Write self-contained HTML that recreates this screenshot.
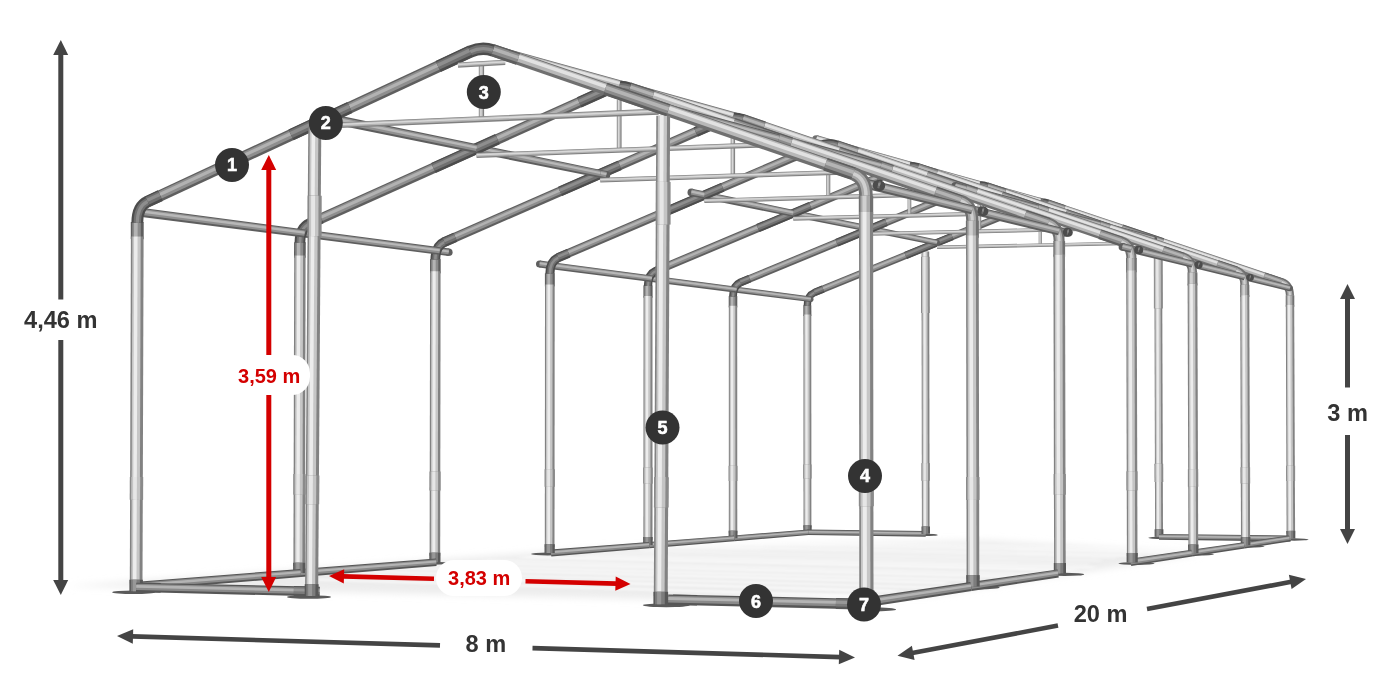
<!DOCTYPE html>
<html><head><meta charset="utf-8"><title>Frame dimensions</title>
<style>
html,body{margin:0;padding:0;background:#fff;}
body{width:1400px;height:700px;overflow:hidden;}
svg{display:block;}
svg text{font-family:"Liberation Sans",Arial,Helvetica,sans-serif;font-weight:700;}
</style></head><body>
<svg width="1400" height="700" viewBox="0 0 1400 700">
<rect width="1400" height="700" fill="#fff"/>
<g id="shadow">
<defs><filter id="bl" x="-5%" y="-30%" width="110%" height="160%"><feGaussianBlur stdDeviation="3.5"/></filter><filter id="bl2" x="-5%" y="-30%" width="110%" height="160%"><feGaussianBlur stdDeviation="1.3"/></filter></defs>
<g filter="url(#bl)">
<polygon points="65.6,585.9 650.0,599.3 931.9,595.4 1202.2,553.7 990.3,540.6 603.9,548.0" fill="#e6e6e6" opacity="0.75"/>
</g><g filter="url(#bl2)">
<polygon points="299.2,579.8 883.0,597.6 892.6,596.1 312.5,578.7" fill="#ffffff" opacity="0.90"/>
<polygon points="329.7,575.6 890.2,591.9 901.9,590.3 345.8,574.2" fill="#ffffff" opacity="0.90"/>
<polygon points="344.9,571.6 949.2,588.7 958.4,587.4 358.0,570.6" fill="#ffffff" opacity="0.90"/>
<polygon points="382.5,568.4 941.6,583.7 951.7,582.2 396.7,567.3" fill="#ffffff" opacity="0.90"/>
<polygon points="420.9,566.1 974.4,580.8 983.8,579.4 434.2,565.0" fill="#ffffff" opacity="0.90"/>
<polygon points="453.7,563.2 1013.1,577.6 1023.3,576.1 468.4,562.0" fill="#ffffff" opacity="0.90"/>
<polygon points="476.9,560.6 1038.6,574.7 1046.3,573.6 488.2,559.7" fill="#ffffff" opacity="0.90"/>
<polygon points="515.9,557.7 1069.3,571.1 1080.9,569.4 532.9,556.3" fill="#ffffff" opacity="0.90"/>
<polygon points="576.1,556.0 1089.6,568.1 1098.9,566.7 589.8,554.9" fill="#ffffff" opacity="0.90"/>
<polygon points="593.7,553.1 1086.9,564.4 1091.6,563.7 600.5,552.5" fill="#ffffff" opacity="0.90"/>
<polygon points="637.1,551.0 1098.3,561.2 1104.3,560.4 645.7,550.3" fill="#ffffff" opacity="0.90"/>
<polygon points="649.6,548.2 1114.4,558.2 1118.7,557.6 655.8,547.7" fill="#ffffff" opacity="0.90"/>
<polygon points="672.8,546.7 1135.6,556.5 1144.2,555.2 685.3,545.7" fill="#ffffff" opacity="0.90"/>
<polygon points="677.2,544.1 1177.2,554.4 1181.2,553.8 683.2,543.6" fill="#ffffff" opacity="0.90"/>
<polygon points="719.5,543.2 1163.3,552.2 1172.1,550.9 732.3,542.2" fill="#ffffff" opacity="0.90"/>
<polygon points="754.3,541.2 1177.7,549.5 1184.4,548.6 764.1,540.4" fill="#ffffff" opacity="0.90"/>
</g>
</g>
<g id="frame">
<ellipse cx="133.6" cy="592.2" rx="21.6" ry="1.8" fill="#5a5a5a"/>
<ellipse cx="872.1" cy="609.4" rx="24.1" ry="2.0" fill="#5a5a5a"/>
<ellipse cx="296.9" cy="574.0" rx="19.6" ry="1.6" fill="#5a5a5a"/>
<ellipse cx="978.1" cy="587.6" rx="21.7" ry="1.8" fill="#5a5a5a"/>
<ellipse cx="432.8" cy="563.2" rx="18.0" ry="1.5" fill="#5a5a5a"/>
<ellipse cx="1064.5" cy="574.4" rx="19.7" ry="1.6" fill="#5a5a5a"/>
<ellipse cx="547.7" cy="554.0" rx="16.6" ry="1.4" fill="#5a5a5a"/>
<ellipse cx="1136.5" cy="563.5" rx="18.0" ry="1.5" fill="#5a5a5a"/>
<ellipse cx="646.1" cy="546.1" rx="15.4" ry="1.3" fill="#5a5a5a"/>
<ellipse cx="1197.2" cy="554.2" rx="16.6" ry="1.4" fill="#5a5a5a"/>
<ellipse cx="731.4" cy="539.3" rx="14.3" ry="1.2" fill="#5a5a5a"/>
<ellipse cx="1249.2" cy="546.3" rx="15.4" ry="1.3" fill="#5a5a5a"/>
<ellipse cx="805.9" cy="533.4" rx="13.4" ry="1.2" fill="#5a5a5a"/>
<ellipse cx="1294.2" cy="539.5" rx="14.4" ry="1.2" fill="#5a5a5a"/>
<ellipse cx="309.0" cy="597.0" rx="22.3" ry="1.8" fill="#5a5a5a"/>
<ellipse cx="666.3" cy="605.3" rx="23.5" ry="1.9" fill="#5a5a5a"/>
<ellipse cx="924.1" cy="534.9" rx="13.7" ry="1.2" fill="#5a5a5a"/>
<ellipse cx="1162.4" cy="537.8" rx="14.1" ry="1.2" fill="#5a5a5a"/>
<polygon points="811.4,315.9 811.3,305.3 803.3,305.3 803.3,316.0" fill="#5e5e5e"/><polygon points="809.6,316.0 809.5,305.3 804.2,305.3 804.2,316.0" fill="#8c8c8c"/><polygon points="807.6,316.0 807.6,305.3 805.3,305.3 805.3,316.0" fill="#b4b4b4"/>
<polygon points="811.4,527.6 811.3,314.4 803.4,314.4 803.5,527.6" fill="#828282"/><polygon points="809.7,527.6 809.5,314.4 804.3,314.4 804.5,527.6" fill="#c6c6c6"/><polygon points="807.7,527.6 807.6,314.4 805.4,314.4 805.5,527.6" fill="#ececec"/>
<polygon points="811.6,478.6 811.6,464.4 803.3,464.4 803.3,478.6" fill="#8a8a8a"/><polygon points="809.8,478.6 809.8,464.4 804.2,464.4 804.2,478.6" fill="#c4c4c4"/><polygon points="807.7,478.6 807.7,464.4 805.4,464.4 805.4,478.6" fill="#e6e6e6"/>
<polygon points="811.7,532.3 811.7,525.2 803.3,525.2 803.3,532.4" fill="#585858"/><polygon points="809.8,532.4 809.8,525.2 804.3,525.2 804.3,532.4" fill="#7c7c7c"/><polygon points="807.8,532.4 807.8,525.2 805.4,525.2 805.4,532.4" fill="#989898"/>
<polygon points="807.5,535.1 925.7,536.7 925.8,531.0 807.5,529.6" fill="#565656"/><polygon points="807.5,533.9 925.7,535.4 925.8,531.7 807.5,530.2" fill="#8a8a8a"/><polygon points="807.5,532.5 925.7,534.0 925.8,532.5 807.5,531.0" fill="#b4b4b4"/>
<polygon points="815.7,295.9 1034.1,207.1 1031.3,200.3 813.0,289.3" fill="#5f5f5f"/><polygon points="815.1,294.4 1033.4,205.6 1031.6,201.1 813.4,290.0" fill="#8e8e8e"/><polygon points="814.5,292.8 1032.8,204.0 1032.0,202.1 813.7,290.9" fill="#b2b2b2"/>
<polygon points="929.6,529.0 929.2,251.4 921.5,251.4 921.9,529.0" fill="#828282"/><polygon points="927.8,529.0 927.4,251.4 922.4,251.4 922.8,529.0" fill="#c6c6c6"/><polygon points="926.0,529.0 925.6,251.4 923.5,251.4 923.8,529.0" fill="#ececec"/>
<polygon points="929.8,312.9 929.7,256.8 921.0,256.8 921.1,312.9" fill="#8a8a8a"/><polygon points="927.8,312.9 927.7,256.8 922.0,256.8 922.1,312.9" fill="#c4c4c4"/><polygon points="925.7,312.9 925.6,256.8 923.2,256.8 923.3,312.9" fill="#e6e6e6"/>
<polygon points="929.9,480.8 929.9,463.1 921.4,463.1 921.4,480.8" fill="#8a8a8a"/><polygon points="928.0,480.8 928.0,463.1 922.4,463.1 922.4,480.8" fill="#c4c4c4"/><polygon points="925.9,480.8 925.9,463.1 923.5,463.1 923.6,480.8" fill="#e6e6e6"/>
<polygon points="815.5,296.1 824.5,292.4 821.7,285.6 812.7,289.3" fill="#4c4c4c"/><polygon points="814.9,294.6 823.9,290.9 822.1,286.4 813.0,290.1" fill="#707070"/><polygon points="814.2,292.9 823.2,289.2 822.4,287.3 813.4,291.0" fill="#8e8e8e"/>
<polygon points="907.0,258.9 953.7,240.0 950.8,233.0 904.2,252.0" fill="#4c4c4c"/><polygon points="906.4,257.4 953.0,238.4 951.2,233.8 904.5,252.8" fill="#707070"/><polygon points="905.7,255.7 952.3,236.7 951.5,234.7 904.9,253.7" fill="#8e8e8e"/>
<polygon points="1012.9,215.9 1034.4,207.1 1031.6,200.1 1010.0,208.9" fill="#4c4c4c"/><polygon points="1012.2,214.3 1033.8,205.6 1031.9,200.9 1010.3,209.7" fill="#707070"/><polygon points="1011.5,212.6 1033.1,203.8 1032.3,201.9 1010.7,210.6" fill="#8e8e8e"/>
<polygon points="930.0,533.8 930.0,526.6 921.5,526.6 921.5,533.9" fill="#585858"/><polygon points="928.1,533.8 928.1,526.6 922.5,526.6 922.5,533.9" fill="#7c7c7c"/><polygon points="926.0,533.9 926.0,526.6 923.6,526.6 923.6,533.9" fill="#989898"/>
<path d="M807.3,305.7 Q807.3,295.4 814.4,292.6" fill="none" stroke="#4c4c4c" stroke-width="7.4"/><path d="M807.3,305.7 Q807.3,295.4 814.4,292.6" fill="none" stroke="#707070" stroke-width="4.6"/><path d="M807.3,305.7 Q807.3,295.4 814.4,292.6" fill="none" stroke="#8e8e8e" stroke-width="1.9"/>
<polygon points="1038.6,211.3 1038.7,244.4 1041.9,244.4 1041.9,211.3" fill="#808080"/><polygon points="1039.0,211.3 1039.1,244.4 1041.2,244.4 1041.1,211.3" fill="#b4b4b4"/><polygon points="1039.4,211.3 1039.5,244.4 1040.4,244.4 1040.3,211.3" fill="#d8d8d8"/>
<circle cx="810.7" cy="299.3" r="2.8" fill="#5e5e5e"/><polygon points="736.2,292.7 810.3,302.1 811.1,296.5 736.9,286.7" fill="#5e5e5e"/><polygon points="736.3,291.3 810.5,300.9 811.0,297.2 736.9,287.4" fill="#909090"/><polygon points="736.5,289.9 810.7,299.5 810.9,297.9 736.7,288.2" fill="#b8b8b8"/>
<polygon points="937.1,249.1 1156.7,244.5 1156.6,240.9 937.0,245.6" fill="#808080"/><polygon points="937.0,248.3 1156.7,243.7 1156.6,241.3 937.0,246.0" fill="#b4b4b4"/><polygon points="937.0,247.4 1156.7,242.8 1156.6,241.8 937.0,246.4" fill="#d8d8d8"/>
<polygon points="734.5,541.3 808.8,535.1 808.4,529.6 734.0,535.4" fill="#565656"/><polygon points="734.4,540.0 808.7,533.9 808.5,530.2 734.1,536.1" fill="#8a8a8a"/><polygon points="734.3,538.5 808.6,532.5 808.5,531.0 734.1,536.9" fill="#b4b4b4"/>
<polygon points="1163.0,531.8 1162.1,244.6 1154.3,244.6 1155.1,531.8" fill="#828282"/><polygon points="1161.2,531.8 1160.4,244.6 1155.2,244.6 1156.0,531.8" fill="#c6c6c6"/><polygon points="1159.3,531.8 1158.5,244.6 1156.3,244.6 1157.1,531.8" fill="#ececec"/>
<polygon points="1162.9,308.4 1162.7,250.4 1153.8,250.4 1153.9,308.5" fill="#8a8a8a"/><polygon points="1160.9,308.5 1160.7,250.4 1154.8,250.4 1154.9,308.5" fill="#c4c4c4"/><polygon points="1158.7,308.5 1158.5,250.4 1156.0,250.4 1156.2,308.5" fill="#e6e6e6"/>
<polygon points="1283.1,278.5 1048.9,199.7 1046.6,206.7 1280.6,285.7" fill="#707070"/><polygon points="1282.9,279.1 1048.8,200.3 1047.2,204.9 1281.3,283.8" fill="#b8b8b8"/><polygon points="1282.6,279.8 1048.5,201.0 1047.9,202.9 1281.9,281.8" fill="#e2e2e2"/>
<polygon points="1163.3,481.9 1163.2,463.7 1154.4,463.7 1154.5,482.0" fill="#8a8a8a"/><polygon points="1161.3,481.9 1161.3,463.7 1155.4,463.7 1155.5,482.0" fill="#c4c4c4"/><polygon points="1159.2,481.9 1159.1,463.7 1156.6,463.7 1156.7,482.0" fill="#e6e6e6"/>
<polygon points="1163.4,536.8 1163.4,529.3 1154.6,529.3 1154.6,536.8" fill="#585858"/><polygon points="1161.5,536.8 1161.4,529.3 1155.6,529.3 1155.6,536.8" fill="#7c7c7c"/><polygon points="1159.3,536.8 1159.3,529.3 1156.8,529.3 1156.8,536.8" fill="#989898"/>
<polygon points="1283.4,278.5 1265.4,272.4 1262.9,279.9 1280.9,286.0" fill="#5e5e5e"/><polygon points="1283.2,279.3 1265.1,273.3 1263.5,278.2 1281.5,284.3" fill="#8c8c8c"/><polygon points="1282.8,280.4 1264.8,274.3 1264.1,276.4 1282.1,282.5" fill="#b4b4b4"/>
<polygon points="1164.1,238.3 1123.2,224.6 1120.7,231.9 1161.6,245.7" fill="#5e5e5e"/><polygon points="1163.8,239.2 1122.9,225.4 1121.2,230.2 1162.2,244.0" fill="#8c8c8c"/><polygon points="1163.5,240.2 1122.5,226.4 1121.8,228.4 1162.8,242.2" fill="#b4b4b4"/>
<polygon points="1065.6,205.2 1048.7,199.5 1046.2,206.7 1063.2,212.4" fill="#5e5e5e"/><polygon points="1065.3,206.0 1048.4,200.3 1046.8,205.1 1063.7,210.8" fill="#8c8c8c"/><polygon points="1065.0,207.0 1048.1,201.3 1047.4,203.3 1064.3,209.1" fill="#b4b4b4"/>
<path d="M1290.0,295.8 Q1289.9,284.8 1281.8,282.1" fill="none" stroke="#707070" stroke-width="8.1"/><path d="M1290.0,295.8 Q1289.9,284.8 1281.8,282.1" fill="none" stroke="#a8a8a8" stroke-width="5.0"/><path d="M1290.0,295.8 Q1289.9,284.8 1281.8,282.1" fill="none" stroke="#d0d0d0" stroke-width="2.1"/>
<path d="M1032.7,203.7 Q1040.2,200.7 1047.8,203.2" fill="none" stroke="#4c4c4c" stroke-width="7.6"/><path d="M1032.7,203.7 Q1040.2,200.7 1047.8,203.2" fill="none" stroke="#707070" stroke-width="4.7"/><path d="M1032.7,203.7 Q1040.2,200.7 1047.8,203.2" fill="none" stroke="#8e8e8e" stroke-width="2.0"/>
<circle cx="937.0" cy="242.7" r="3.0" fill="#5e5e5e"/><polygon points="869.4,232.1 936.4,245.6 937.6,239.7 870.7,225.8" fill="#5e5e5e"/><polygon points="869.7,230.7 936.7,244.3 937.5,240.4 870.5,226.6" fill="#909090"/><polygon points="870.0,229.2 937.0,242.9 937.3,241.2 870.4,227.4" fill="#b8b8b8"/>
<polygon points="737.3,307.4 737.3,296.1 728.7,296.1 728.7,307.4" fill="#5e5e5e"/><polygon points="735.4,307.4 735.4,296.1 729.7,296.1 729.7,307.4" fill="#8c8c8c"/><polygon points="733.3,307.4 733.3,296.1 730.9,296.1 730.9,307.4" fill="#b4b4b4"/>
<polygon points="737.3,533.2 737.2,305.7 728.8,305.8 728.8,533.2" fill="#828282"/><polygon points="735.4,533.2 735.3,305.7 729.8,305.8 729.8,533.2" fill="#c6c6c6"/><polygon points="733.3,533.2 733.3,305.7 730.9,305.7 731.0,533.2" fill="#ececec"/>
<circle cx="1040.2" cy="201.1" r="3.3" fill="#707070"/><polygon points="978.4,187.7 1039.3,204.3 1041.1,197.9 980.3,180.9" fill="#707070"/><polygon points="978.9,185.9 1039.8,202.6 1040.9,198.4 980.1,181.4" fill="#b8b8b8"/><polygon points="979.4,184.0 1040.3,200.8 1040.8,199.0 979.9,182.1" fill="#e2e2e2"/>
<polygon points="737.5,481.0 737.5,465.8 728.6,465.8 728.6,481.0" fill="#8a8a8a"/><polygon points="735.5,481.0 735.5,465.8 729.6,465.8 729.6,481.0" fill="#c4c4c4"/><polygon points="733.3,481.0 733.3,465.8 730.8,465.8 730.8,481.0" fill="#e6e6e6"/>
<polygon points="1159.0,539.7 1290.8,541.4 1290.9,535.5 1159.1,533.9" fill="#565656"/><polygon points="1159.0,538.4 1290.8,540.1 1290.9,536.2 1159.1,534.6" fill="#8a8a8a"/><polygon points="1159.0,537.0 1290.8,538.7 1290.9,537.0 1159.0,535.4" fill="#b4b4b4"/>
<polygon points="737.5,538.3 737.5,530.7 728.6,530.7 728.6,538.3" fill="#585858"/><polygon points="735.5,538.3 735.5,530.7 729.6,530.7 729.6,538.3" fill="#7c7c7c"/><polygon points="733.3,538.3 733.3,530.7 730.8,530.7 730.8,538.3" fill="#989898"/>
<polygon points="1294.3,306.8 1294.3,295.4 1285.7,295.4 1285.7,306.8" fill="#707070"/><polygon points="1292.4,306.8 1292.4,295.4 1286.7,295.4 1286.7,306.8" fill="#a8a8a8"/><polygon points="1290.3,306.8 1290.3,295.4 1287.8,295.4 1287.9,306.8" fill="#d0d0d0"/>
<polygon points="1295.1,533.4 1294.2,305.1 1285.8,305.1 1286.6,533.4" fill="#828282"/><polygon points="1293.2,533.4 1292.3,305.1 1286.8,305.1 1287.6,533.4" fill="#c6c6c6"/><polygon points="1291.1,533.4 1290.3,305.1 1287.9,305.1 1288.7,533.4" fill="#ececec"/>
<polygon points="1295.1,480.9 1295.1,465.7 1286.1,465.7 1286.2,480.9" fill="#8a8a8a"/><polygon points="1293.1,480.9 1293.1,465.7 1287.1,465.7 1287.2,480.9" fill="#c4c4c4"/><polygon points="1290.9,480.9 1290.9,465.7 1288.4,465.7 1288.4,480.9" fill="#e6e6e6"/>
<polygon points="1295.3,538.5 1295.3,530.8 1286.3,530.9 1286.4,538.5" fill="#585858"/><polygon points="1293.3,538.5 1293.3,530.8 1287.4,530.9 1287.4,538.5" fill="#7c7c7c"/><polygon points="1291.1,538.5 1291.1,530.9 1288.6,530.9 1288.6,538.5" fill="#989898"/>
<polygon points="741.9,286.0 972.8,190.8 969.9,183.5 739.0,279.0" fill="#5f5f5f"/><polygon points="741.2,284.4 972.2,189.2 970.2,184.4 739.3,279.8" fill="#8e8e8e"/><polygon points="740.5,282.7 971.5,187.4 970.6,185.4 739.7,280.7" fill="#b2b2b2"/>
<polygon points="741.6,286.3 751.2,282.3 748.2,275.0 738.6,279.0" fill="#4c4c4c"/><polygon points="741.0,284.6 750.5,280.7 748.5,275.9 739.0,279.8" fill="#707070"/><polygon points="740.2,282.8 749.8,278.9 748.9,276.9 739.4,280.8" fill="#8e8e8e"/>
<polygon points="838.3,246.4 887.7,226.0 884.6,218.6 835.3,239.0" fill="#4c4c4c"/><polygon points="837.6,244.7 887.0,224.4 885.0,219.5 835.6,239.9" fill="#707070"/><polygon points="836.9,242.9 886.3,222.6 885.4,220.5 836.0,240.9" fill="#8e8e8e"/>
<polygon points="950.4,200.2 973.2,190.8 970.1,183.3 947.3,192.7" fill="#4c4c4c"/><polygon points="949.7,198.5 972.5,189.1 970.5,184.1 947.7,193.6" fill="#707070"/><polygon points="948.9,196.7 971.8,187.3 970.9,185.1 948.1,194.6" fill="#8e8e8e"/>
<path d="M733.0,296.5 Q733.0,285.6 740.4,282.5" fill="none" stroke="#4c4c4c" stroke-width="7.9"/><path d="M733.0,296.5 Q733.0,285.6 740.4,282.5" fill="none" stroke="#707070" stroke-width="4.9"/><path d="M733.0,296.5 Q733.0,285.6 740.4,282.5" fill="none" stroke="#8e8e8e" stroke-width="2.0"/>
<circle cx="1289.9" cy="288.2" r="3.0" fill="#5e5e5e"/><polygon points="1243.9,280.2 1289.2,291.2 1290.7,285.3 1245.5,273.9" fill="#5e5e5e"/><polygon points="1244.3,278.8 1289.5,289.8 1290.5,285.9 1245.3,274.6" fill="#909090"/><polygon points="1244.6,277.3 1289.9,288.4 1290.3,286.7 1245.1,275.5" fill="#b8b8b8"/>
<circle cx="1154.1" cy="239.1" r="3.0" fill="#5e5e5e"/><polygon points="1099.4,227.8 1153.4,241.9 1154.9,236.2 1101.1,221.6" fill="#5e5e5e"/><polygon points="1099.8,226.4 1153.7,240.7 1154.7,236.9 1100.9,222.3" fill="#909090"/><polygon points="1100.2,224.9 1154.1,239.3 1154.5,237.6 1100.7,223.1" fill="#b8b8b8"/>
<polygon points="977.6,195.2 977.7,230.6 981.2,230.6 981.1,195.2" fill="#808080"/><polygon points="978.0,195.2 978.1,230.6 980.4,230.6 980.3,195.2" fill="#b4b4b4"/><polygon points="978.5,195.2 978.6,230.6 979.5,230.6 979.5,195.2" fill="#d8d8d8"/>
<polygon points="651.4,281.9 736.2,292.7 736.9,286.7 652.2,275.4" fill="#5e5e5e"/><polygon points="651.5,280.4 736.3,291.3 736.9,287.4 652.1,276.2" fill="#909090"/><polygon points="651.7,278.9 736.5,289.9 736.7,288.2 652.0,277.1" fill="#b8b8b8"/>
<polygon points="870.1,235.8 1102.9,230.5 1102.9,226.6 870.0,232.1" fill="#808080"/><polygon points="870.1,235.0 1102.9,229.7 1102.9,227.1 870.0,232.5" fill="#b4b4b4"/><polygon points="870.0,234.1 1102.9,228.7 1102.9,227.6 870.0,233.0" fill="#d8d8d8"/>
<polygon points="649.5,548.3 734.5,541.3 734.0,535.4 649.0,542.0" fill="#565656"/><polygon points="649.3,546.9 734.4,540.0 734.1,536.1 649.0,542.7" fill="#8a8a8a"/><polygon points="649.2,545.3 734.3,538.5 734.1,536.9 649.1,543.6" fill="#b4b4b4"/>
<polygon points="1244.7,548.4 1290.0,541.4 1289.1,535.5 1243.7,542.2" fill="#565656"/><polygon points="1244.5,547.0 1289.8,540.1 1289.2,536.2 1243.8,542.9" fill="#8a8a8a"/><polygon points="1244.2,545.5 1289.6,538.6 1289.3,537.0 1244.0,543.7" fill="#b4b4b4"/>
<polygon points="1237.4,266.7 988.6,182.8 986.1,190.3 1234.8,274.4" fill="#707070"/><polygon points="1237.2,267.3 988.4,183.4 986.8,188.3 1235.4,272.4" fill="#b8b8b8"/><polygon points="1236.9,268.1 988.2,184.2 987.5,186.3 1236.2,270.2" fill="#e2e2e2"/>
<polygon points="1237.8,266.6 1218.6,260.2 1215.9,268.2 1235.1,274.7" fill="#5e5e5e"/><polygon points="1237.5,267.6 1218.3,261.1 1216.5,266.4 1235.7,272.9" fill="#8c8c8c"/><polygon points="1237.1,268.7 1217.9,262.2 1217.2,264.4 1236.3,270.9" fill="#b4b4b4"/>
<polygon points="1110.8,223.9 1067.3,209.2 1064.7,217.0 1108.2,231.7" fill="#5e5e5e"/><polygon points="1110.5,224.8 1067.0,210.1 1065.3,215.3 1108.8,230.0" fill="#8c8c8c"/><polygon points="1110.2,225.8 1066.7,211.2 1065.9,213.4 1109.4,228.1" fill="#b4b4b4"/>
<polygon points="1006.3,188.6 988.3,182.6 985.7,190.3 1003.7,196.4" fill="#5e5e5e"/><polygon points="1006.0,189.5 988.0,183.5 986.3,188.6 1004.3,194.7" fill="#8c8c8c"/><polygon points="1005.6,190.6 987.7,184.5 986.9,186.7 1004.9,192.8" fill="#b4b4b4"/>
<path d="M1244.7,285.2 Q1244.7,273.4 1236.1,270.5" fill="none" stroke="#707070" stroke-width="8.6"/><path d="M1244.7,285.2 Q1244.7,273.4 1236.1,270.5" fill="none" stroke="#a8a8a8" stroke-width="5.4"/><path d="M1244.7,285.2 Q1244.7,273.4 1236.1,270.5" fill="none" stroke="#d0d0d0" stroke-width="2.2"/>
<path d="M971.4,187.2 Q979.3,183.9 987.4,186.6" fill="none" stroke="#4c4c4c" stroke-width="8.2"/><path d="M971.4,187.2 Q979.3,183.9 987.4,186.6" fill="none" stroke="#707070" stroke-width="5.1"/><path d="M971.4,187.2 Q979.3,183.9 987.4,186.6" fill="none" stroke="#8e8e8e" stroke-width="2.1"/>
<polygon points="792.6,216.7 869.4,232.1 870.7,225.8 793.9,209.9" fill="#5e5e5e"/><polygon points="792.9,215.2 869.7,230.7 870.5,226.6 793.8,210.7" fill="#909090"/><polygon points="793.2,213.5 870.0,229.2 870.4,227.4 793.6,211.6" fill="#b8b8b8"/>
<polygon points="652.6,297.7 652.6,285.5 643.4,285.5 643.4,297.7" fill="#5e5e5e"/><polygon points="650.5,297.7 650.5,285.5 644.5,285.5 644.5,297.7" fill="#8c8c8c"/><polygon points="648.3,297.7 648.3,285.5 645.7,285.5 645.7,297.7" fill="#b4b4b4"/>
<polygon points="652.5,539.7 652.5,295.9 643.5,295.9 643.4,539.7" fill="#828282"/><polygon points="650.4,539.7 650.5,295.9 644.5,295.9 644.5,539.7" fill="#c6c6c6"/><polygon points="648.2,539.7 648.3,295.9 645.8,295.9 645.7,539.7" fill="#ececec"/>
<polygon points="908.4,168.7 978.4,187.7 980.3,180.9 910.4,161.4" fill="#707070"/><polygon points="908.9,166.8 978.9,185.9 980.1,181.4 910.3,161.9" fill="#b8b8b8"/><polygon points="909.5,164.7 979.4,184.0 979.9,182.1 910.1,162.7" fill="#e2e2e2"/>
<circle cx="1250.5" cy="277.6" r="3.4" fill="#4c4c4c"/><circle cx="1249.6" cy="277.4" r="3.4" fill="#4c4c4c"/><polygon points="1248.8,280.6 1249.7,280.8 1251.3,274.3 1250.4,274.1" fill="#4c4c4c"/><polygon points="1249.2,279.2 1250.0,279.4 1251.1,275.1 1250.2,274.9" fill="#707070"/><polygon points="1249.6,277.6 1250.4,277.8 1250.9,276.0 1250.0,275.7" fill="#8e8e8e"/>
<polygon points="652.7,483.7 652.7,467.4 643.2,467.4 643.2,483.6" fill="#8a8a8a"/><polygon points="650.6,483.7 650.6,467.4 644.3,467.4 644.3,483.6" fill="#c4c4c4"/><polygon points="648.3,483.7 648.3,467.4 645.6,467.4 645.6,483.6" fill="#e6e6e6"/>
<polygon points="652.7,545.1 652.7,537.0 643.2,537.0 643.1,545.1" fill="#585858"/><polygon points="650.6,545.1 650.6,537.0 644.3,537.0 644.3,545.1" fill="#7c7c7c"/><polygon points="648.2,545.1 648.3,537.0 645.6,537.0 645.6,545.1" fill="#989898"/>
<polygon points="1249.4,296.9 1249.3,284.7 1240.1,284.8 1240.2,297.0" fill="#707070"/><polygon points="1247.3,297.0 1247.3,284.7 1241.2,284.8 1241.2,297.0" fill="#a8a8a8"/><polygon points="1245.1,297.0 1245.0,284.7 1242.4,284.8 1242.5,297.0" fill="#d0d0d0"/>
<polygon points="1250.1,539.9 1249.3,295.1 1240.2,295.2 1241.0,539.9" fill="#828282"/><polygon points="1248.1,539.9 1247.3,295.1 1241.3,295.2 1242.1,539.9" fill="#c6c6c6"/><polygon points="1245.9,539.9 1245.0,295.2 1242.5,295.2 1243.3,539.9" fill="#ececec"/>
<polygon points="1250.2,483.6 1250.1,467.3 1240.5,467.3 1240.6,483.6" fill="#8a8a8a"/><polygon points="1248.0,483.6 1248.0,467.3 1241.6,467.3 1241.7,483.6" fill="#c4c4c4"/><polygon points="1245.7,483.6 1245.6,467.3 1242.9,467.3 1243.0,483.6" fill="#e6e6e6"/>
<polygon points="1250.4,545.3 1250.4,537.1 1240.7,537.2 1240.8,545.3" fill="#585858"/><polygon points="1248.2,545.3 1248.2,537.1 1241.9,537.2 1241.9,545.3" fill="#7c7c7c"/><polygon points="1245.9,545.3 1245.9,537.2 1243.2,537.2 1243.2,545.3" fill="#989898"/>
<polygon points="657.5,274.7 902.5,172.0 899.3,164.2 654.3,267.2" fill="#5f5f5f"/><polygon points="656.8,273.0 901.8,170.3 899.7,165.1 654.7,268.1" fill="#8e8e8e"/><polygon points="656.0,271.2 901.0,168.4 900.1,166.2 655.1,269.1" fill="#b2b2b2"/>
<polygon points="657.2,275.0 667.3,270.7 664.0,262.9 653.9,267.2" fill="#4c4c4c"/><polygon points="656.5,273.2 666.6,269.0 664.4,263.8 654.3,268.1" fill="#707070"/><polygon points="655.7,271.3 665.8,267.1 664.8,264.9 654.7,269.1" fill="#8e8e8e"/>
<polygon points="759.6,232.0 812.0,210.1 808.7,202.1 756.3,224.1" fill="#4c4c4c"/><polygon points="758.9,230.3 811.3,208.3 809.1,203.1 756.7,225.1" fill="#707070"/><polygon points="758.1,228.3 810.5,206.4 809.5,204.1 757.2,226.1" fill="#8e8e8e"/>
<polygon points="878.7,182.2 903.0,172.0 899.6,163.9 875.3,174.1" fill="#4c4c4c"/><polygon points="877.9,180.4 902.2,170.2 900.0,164.9 875.7,175.1" fill="#707070"/><polygon points="877.1,178.4 901.4,168.2 900.4,166.0 876.1,176.2" fill="#8e8e8e"/>
<path d="M648.0,286.0 Q648.0,274.2 655.9,270.9" fill="none" stroke="#4c4c4c" stroke-width="8.4"/><path d="M648.0,286.0 Q648.0,274.2 655.9,270.9" fill="none" stroke="#707070" stroke-width="5.2"/><path d="M648.0,286.0 Q648.0,274.2 655.9,270.9" fill="none" stroke="#8e8e8e" stroke-width="2.2"/>
<polygon points="1191.6,267.6 1243.9,280.2 1245.5,273.9 1193.3,260.8" fill="#5e5e5e"/><polygon points="1192.0,266.0 1244.3,278.8 1245.3,274.6 1193.1,261.5" fill="#909090"/><polygon points="1192.4,264.4 1244.6,277.3 1245.1,275.5 1192.9,262.5" fill="#b8b8b8"/>
<polygon points="1037.3,211.4 1099.4,227.8 1101.1,221.6 1039.0,204.8" fill="#5e5e5e"/><polygon points="1037.7,209.9 1099.8,226.4 1100.9,222.3 1038.8,205.5" fill="#909090"/><polygon points="1038.1,208.3 1100.2,224.9 1100.7,223.1 1038.6,206.4" fill="#b8b8b8"/>
<polygon points="907.6,176.7 907.6,214.8 911.3,214.8 911.3,176.7" fill="#808080"/><polygon points="908.0,176.7 908.0,214.8 910.5,214.8 910.5,176.7" fill="#b4b4b4"/><polygon points="908.5,176.7 908.5,214.8 909.6,214.8 909.5,176.7" fill="#d8d8d8"/>
<polygon points="553.4,269.4 651.4,281.9 652.2,275.4 554.3,262.5" fill="#5e5e5e"/><polygon points="553.6,267.9 651.5,280.4 652.1,276.2 554.2,263.3" fill="#909090"/><polygon points="553.9,266.2 651.7,278.9 652.0,277.1 554.1,264.2" fill="#b8b8b8"/>
<polygon points="793.3,220.7 1041.0,214.4 1040.9,210.2 793.2,216.6" fill="#808080"/><polygon points="793.3,219.7 1041.0,213.4 1040.9,210.7 793.2,217.1" fill="#b4b4b4"/><polygon points="793.3,218.8 1041.0,212.4 1041.0,211.2 793.2,217.6" fill="#d8d8d8"/>
<polygon points="551.3,556.4 649.5,548.3 649.0,542.0 550.7,549.6" fill="#565656"/><polygon points="551.2,554.9 649.3,546.9 649.0,542.7 550.8,550.4" fill="#8a8a8a"/><polygon points="551.0,553.2 649.2,545.3 649.1,543.6 550.9,551.3" fill="#b4b4b4"/>
<polygon points="1192.3,556.6 1244.7,548.4 1243.7,542.2 1191.3,549.8" fill="#565656"/><polygon points="1192.1,555.1 1244.5,547.0 1243.8,542.9 1191.4,550.6" fill="#8a8a8a"/><polygon points="1191.9,553.4 1244.2,545.5 1244.0,543.7 1191.6,551.5" fill="#b4b4b4"/>
<polygon points="1184.6,253.0 919.3,163.4 916.6,171.4 1181.8,261.3" fill="#707070"/><polygon points="1184.4,253.7 919.1,164.1 917.3,169.3 1182.5,259.1" fill="#b8b8b8"/><polygon points="1184.1,254.5 918.8,164.9 918.0,167.1 1183.3,256.8" fill="#e2e2e2"/>
<polygon points="1185.1,253.0 1164.5,246.0 1161.6,254.6 1182.1,261.6" fill="#5e5e5e"/><polygon points="1184.7,254.0 1164.2,247.0 1162.3,252.7 1182.8,259.7" fill="#8c8c8c"/><polygon points="1184.3,255.1 1163.8,248.2 1163.0,250.6 1183.5,257.6" fill="#b4b4b4"/>
<polygon points="1049.5,207.2 1003.1,191.5 1000.3,200.0 1046.6,215.7" fill="#5e5e5e"/><polygon points="1049.1,208.2 1002.8,192.5 1000.9,198.1 1047.3,213.8" fill="#8c8c8c"/><polygon points="1048.8,209.3 1002.4,193.7 1001.6,196.0 1048.0,211.7" fill="#b4b4b4"/>
<polygon points="938.1,169.6 919.0,163.2 916.2,171.5 935.3,177.9" fill="#5e5e5e"/><polygon points="937.8,170.6 918.7,164.1 916.8,169.6 935.9,176.1" fill="#8c8c8c"/><polygon points="937.4,171.7 918.3,165.2 917.5,167.6 936.6,174.0" fill="#b4b4b4"/>
<path d="M1192.5,272.9 Q1192.4,260.3 1183.2,257.1" fill="none" stroke="#707070" stroke-width="9.3"/><path d="M1192.5,272.9 Q1192.4,260.3 1183.2,257.1" fill="none" stroke="#a8a8a8" stroke-width="5.8"/><path d="M1192.5,272.9 Q1192.4,260.3 1183.2,257.1" fill="none" stroke="#d0d0d0" stroke-width="2.4"/>
<path d="M900.9,168.1 Q909.4,164.5 917.9,167.4" fill="none" stroke="#4c4c4c" stroke-width="8.8"/><path d="M900.9,168.1 Q909.4,164.5 917.9,167.4" fill="none" stroke="#707070" stroke-width="5.4"/><path d="M900.9,168.1 Q909.4,164.5 917.9,167.4" fill="none" stroke="#8e8e8e" stroke-width="2.3"/>
<polygon points="703.6,198.8 792.6,216.7 793.9,209.9 705.1,191.5" fill="#5e5e5e"/><polygon points="703.9,197.1 792.9,215.2 793.8,210.7 704.9,192.3" fill="#909090"/><polygon points="704.3,195.4 793.2,213.5 793.6,211.6 704.7,193.3" fill="#b8b8b8"/>
<polygon points="554.8,286.4 554.8,273.3 544.9,273.3 544.9,286.4" fill="#5e5e5e"/><polygon points="552.6,286.4 552.6,273.3 546.1,273.3 546.1,286.4" fill="#8c8c8c"/><polygon points="550.2,286.4 550.2,273.3 547.4,273.3 547.4,286.4" fill="#b4b4b4"/>
<polygon points="554.5,547.1 554.7,284.5 545.0,284.5 544.8,547.1" fill="#828282"/><polygon points="552.4,547.1 552.6,284.5 546.1,284.5 545.9,547.1" fill="#c6c6c6"/><polygon points="550.0,547.1 550.2,284.5 547.5,284.5 547.3,547.1" fill="#ececec"/>
<polygon points="827.1,146.6 908.4,168.7 910.4,161.4 829.3,138.7" fill="#707070"/><polygon points="827.7,144.5 908.9,166.8 910.3,161.9 829.2,139.3" fill="#b8b8b8"/><polygon points="828.3,142.3 909.5,164.7 910.1,162.7 828.9,140.1" fill="#e2e2e2"/>
<circle cx="1199.1" cy="264.8" r="3.6" fill="#4c4c4c"/><circle cx="1198.1" cy="264.6" r="3.6" fill="#4c4c4c"/><polygon points="1197.3,268.1 1198.3,268.4 1200.0,261.3 1199.0,261.1" fill="#4c4c4c"/><polygon points="1197.7,266.5 1198.6,266.8 1199.8,262.1 1198.8,261.9" fill="#707070"/><polygon points="1198.1,264.8 1199.1,265.1 1199.6,263.1 1198.6,262.9" fill="#8e8e8e"/>
<polygon points="554.9,486.8 554.9,469.2 544.6,469.2 544.6,486.8" fill="#8a8a8a"/><polygon points="552.6,486.8 552.6,469.2 545.8,469.2 545.8,486.8" fill="#c4c4c4"/><polygon points="550.0,486.8 550.1,469.2 547.2,469.2 547.2,486.8" fill="#e6e6e6"/>
<polygon points="554.8,553.0 554.8,544.2 544.5,544.2 544.5,553.0" fill="#585858"/><polygon points="552.5,553.0 552.5,544.2 545.7,544.2 545.7,553.0" fill="#7c7c7c"/><polygon points="550.0,553.0 550.0,544.2 547.1,544.2 547.1,553.0" fill="#989898"/>
<polygon points="1197.5,285.6 1197.4,272.4 1187.5,272.5 1187.5,285.6" fill="#707070"/><polygon points="1195.2,285.6 1195.2,272.4 1188.6,272.5 1188.7,285.6" fill="#a8a8a8"/><polygon points="1192.8,285.6 1192.8,272.4 1190.0,272.5 1190.0,285.6" fill="#d0d0d0"/>
<polygon points="1198.2,547.4 1197.4,283.6 1187.6,283.7 1188.4,547.4" fill="#828282"/><polygon points="1196.0,547.4 1195.2,283.7 1188.8,283.7 1189.5,547.4" fill="#c6c6c6"/><polygon points="1193.6,547.4 1192.8,283.7 1190.1,283.7 1190.9,547.4" fill="#ececec"/>
<circle cx="539.5" cy="264.1" r="3.5" fill="#5e5e5e"/><polygon points="539.1,267.6 553.4,269.4 554.3,262.5 540.0,260.6" fill="#5e5e5e"/><polygon points="539.3,266.0 553.6,267.9 554.2,263.3 539.9,261.4" fill="#909090"/><polygon points="539.5,264.3 553.9,266.2 554.1,264.2 539.7,262.3" fill="#b8b8b8"/>
<polygon points="1198.3,486.7 1198.2,469.1 1187.9,469.2 1187.9,486.8" fill="#8a8a8a"/><polygon points="1196.0,486.7 1195.9,469.1 1189.1,469.2 1189.1,486.8" fill="#c4c4c4"/><polygon points="1193.4,486.7 1193.4,469.2 1190.5,469.2 1190.5,486.8" fill="#e6e6e6"/>
<polygon points="1198.5,553.2 1198.5,544.4 1188.1,544.5 1188.1,553.3" fill="#585858"/><polygon points="1196.2,553.2 1196.1,544.4 1189.3,544.4 1189.3,553.3" fill="#7c7c7c"/><polygon points="1193.6,553.2 1193.6,544.4 1190.7,544.4 1190.7,553.2" fill="#989898"/>
<polygon points="560.0,261.6 821.0,150.2 817.4,141.8 556.6,253.6" fill="#5f5f5f"/><polygon points="559.2,259.8 820.2,148.3 817.8,142.8 557.0,254.5" fill="#8e8e8e"/><polygon points="558.4,257.9 819.3,146.3 818.3,143.9 557.4,255.6" fill="#b2b2b2"/>
<polygon points="559.7,261.9 570.4,257.4 566.9,249.0 556.1,253.6" fill="#4c4c4c"/><polygon points="558.9,260.1 569.6,255.5 567.3,250.0 556.5,254.5" fill="#707070"/><polygon points="558.0,258.0 568.8,253.4 567.8,251.1 557.0,255.7" fill="#8e8e8e"/>
<polygon points="668.6,215.4 724.4,191.6 720.8,183.0 665.0,206.9" fill="#4c4c4c"/><polygon points="667.8,213.5 723.6,189.7 721.2,184.0 665.4,207.9" fill="#707070"/><polygon points="666.9,211.5 722.7,187.6 721.7,185.2 665.9,209.1" fill="#8e8e8e"/>
<polygon points="795.5,161.3 821.4,150.2 817.7,141.5 791.8,152.6" fill="#4c4c4c"/><polygon points="794.6,159.3 820.6,148.2 818.1,142.5 792.2,153.6" fill="#707070"/><polygon points="793.7,157.2 819.7,146.1 818.6,143.7 792.7,154.8" fill="#8e8e8e"/>
<path d="M549.9,273.8 Q549.9,261.2 558.3,257.6" fill="none" stroke="#4c4c4c" stroke-width="9.1"/><path d="M549.9,273.8 Q549.9,261.2 558.3,257.6" fill="none" stroke="#707070" stroke-width="5.6"/><path d="M549.9,273.8 Q549.9,261.2 558.3,257.6" fill="none" stroke="#8e8e8e" stroke-width="2.4"/>
<polygon points="1130.5,252.8 1191.6,267.6 1193.3,260.8 1132.3,245.4" fill="#5e5e5e"/><polygon points="1130.9,251.1 1192.0,266.0 1193.1,261.5 1132.1,246.3" fill="#909090"/><polygon points="1131.3,249.3 1192.4,264.4 1192.9,262.5 1131.8,247.3" fill="#b8b8b8"/>
<polygon points="964.9,192.4 1037.3,211.4 1039.0,204.8 966.9,185.2" fill="#5e5e5e"/><polygon points="965.4,190.8 1037.7,209.9 1038.8,205.5 966.6,186.0" fill="#909090"/><polygon points="965.8,189.0 1038.1,208.3 1038.6,206.4 966.4,187.0" fill="#b8b8b8"/>
<circle cx="691.3" cy="192.4" r="3.8" fill="#5e5e5e"/><polygon points="690.5,196.1 703.6,198.8 705.1,191.5 692.0,188.8" fill="#5e5e5e"/><polygon points="690.9,194.5 703.9,197.1 704.9,192.3 691.8,189.6" fill="#909090"/><polygon points="691.2,192.7 704.3,195.4 704.7,193.3 691.6,190.6" fill="#b8b8b8"/>
<polygon points="826.2,155.3 826.3,196.4 830.3,196.4 830.3,155.3" fill="#808080"/><polygon points="826.7,155.3 826.7,196.4 829.4,196.4 829.4,155.3" fill="#b4b4b4"/><polygon points="827.2,155.3 827.3,196.4 828.4,196.4 828.4,155.3" fill="#d8d8d8"/>
<polygon points="704.4,203.1 969.0,195.6 968.9,191.1 704.3,198.7" fill="#808080"/><polygon points="704.4,202.1 969.0,194.6 968.9,191.6 704.3,199.2" fill="#b4b4b4"/><polygon points="704.4,201.0 968.9,193.5 968.9,192.2 704.3,199.8" fill="#d8d8d8"/>
<polygon points="1131.2,566.1 1192.3,556.6 1191.3,549.8 1130.1,558.8" fill="#565656"/><polygon points="1130.9,564.5 1192.1,555.1 1191.4,550.6 1130.2,559.6" fill="#8a8a8a"/><polygon points="1130.7,562.7 1191.9,553.4 1191.6,551.5 1130.4,560.6" fill="#b4b4b4"/>
<circle cx="816.3" cy="139.3" r="4.1" fill="#707070"/><polygon points="815.2,143.3 827.1,146.6 829.3,138.7 817.4,135.3" fill="#707070"/><polygon points="815.7,141.3 827.7,144.5 829.2,139.3 817.2,136.0" fill="#b8b8b8"/><polygon points="816.4,139.0 828.3,142.3 828.9,140.1 817.0,136.8" fill="#e2e2e2"/>
<polygon points="1123.0,237.0 838.8,140.9 835.9,149.5 1120.0,246.0" fill="#707070"/><polygon points="1122.8,237.7 838.6,141.6 836.6,147.3 1120.7,243.7" fill="#b8b8b8"/><polygon points="1122.4,238.6 838.3,142.5 837.5,144.9 1121.6,241.2" fill="#e2e2e2"/>
<polygon points="1123.5,237.0 1101.4,229.5 1098.3,238.9 1120.3,246.3" fill="#5e5e5e"/><polygon points="1123.1,238.1 1101.1,230.6 1099.0,236.8 1121.0,244.2" fill="#8c8c8c"/><polygon points="1122.7,239.3 1100.6,231.9 1099.7,234.5 1121.8,242.0" fill="#b4b4b4"/>
<polygon points="978.0,187.8 928.4,171.0 925.3,180.1 974.9,197.0" fill="#5e5e5e"/><polygon points="977.7,188.9 928.0,172.1 926.0,178.1 975.6,194.9" fill="#8c8c8c"/><polygon points="977.3,190.1 927.6,173.3 926.7,175.8 976.4,192.7" fill="#b4b4b4"/>
<polygon points="858.9,147.5 838.5,140.6 835.4,149.6 855.8,156.5" fill="#5e5e5e"/><polygon points="858.5,148.6 838.1,141.6 836.1,147.6 856.5,154.5" fill="#8c8c8c"/><polygon points="858.1,149.8 837.7,142.9 836.9,145.4 857.3,152.3" fill="#b4b4b4"/>
<path d="M1131.4,258.6 Q1131.4,244.9 1121.5,241.5" fill="none" stroke="#707070" stroke-width="10.1"/><path d="M1131.4,258.6 Q1131.4,244.9 1121.5,241.5" fill="none" stroke="#a8a8a8" stroke-width="6.3"/><path d="M1131.4,258.6 Q1131.4,244.9 1121.5,241.5" fill="none" stroke="#d0d0d0" stroke-width="2.6"/>
<path d="M819.2,146.0 Q828.2,142.1 837.3,145.2" fill="none" stroke="#4c4c4c" stroke-width="9.5"/><path d="M819.2,146.0 Q828.2,142.1 837.3,145.2" fill="none" stroke="#707070" stroke-width="5.9"/><path d="M819.2,146.0 Q828.2,142.1 837.3,145.2" fill="none" stroke="#8e8e8e" stroke-width="2.5"/>
<circle cx="1122.4" cy="246.9" r="3.8" fill="#5e5e5e"/><polygon points="1121.4,250.6 1130.5,252.8 1132.3,245.4 1123.3,243.1" fill="#5e5e5e"/><polygon points="1121.8,248.9 1130.9,251.1 1132.1,246.3 1123.1,244.0" fill="#909090"/><polygon points="1122.3,247.1 1131.3,249.3 1131.8,247.3 1122.8,245.0" fill="#b8b8b8"/>
<circle cx="955.2" cy="185.9" r="3.8" fill="#5e5e5e"/><polygon points="954.3,189.6 964.9,192.4 966.9,185.2 956.2,182.3" fill="#5e5e5e"/><polygon points="954.7,187.9 965.4,190.8 966.6,186.0 956.0,183.2" fill="#909090"/><polygon points="955.2,186.2 965.8,189.0 966.4,187.0 955.7,184.1" fill="#b8b8b8"/>
<circle cx="448.8" cy="252.3" r="3.8" fill="#5e5e5e"/><polygon points="439.1,254.8 448.3,256.0 449.3,248.5 440.1,247.3" fill="#5e5e5e"/><polygon points="439.4,253.2 448.5,254.3 449.1,249.4 440.0,248.2" fill="#909090"/><polygon points="439.6,251.3 448.7,252.5 449.0,250.4 439.9,249.2" fill="#b8b8b8"/>
<polygon points="440.7,273.3 440.7,259.1 430.0,259.1 430.0,273.3" fill="#5e5e5e"/><polygon points="438.3,273.3 438.3,259.1 431.2,259.1 431.2,273.3" fill="#8c8c8c"/><polygon points="435.7,273.3 435.7,259.1 432.7,259.1 432.7,273.3" fill="#b4b4b4"/>
<polygon points="440.2,555.8 440.6,271.2 430.1,271.2 429.6,555.8" fill="#828282"/><polygon points="437.8,555.8 438.2,271.2 431.3,271.2 430.9,555.8" fill="#c6c6c6"/><polygon points="435.3,555.8 435.7,271.2 432.7,271.2 432.3,555.8" fill="#ececec"/>
<circle cx="1139.3" cy="250.0" r="3.9" fill="#4c4c4c"/><circle cx="1138.1" cy="249.7" r="3.9" fill="#4c4c4c"/><polygon points="1137.1,253.5 1138.3,253.8 1140.2,246.2 1139.0,245.9" fill="#4c4c4c"/><polygon points="1137.6,251.8 1138.7,252.1 1140.0,247.1 1138.8,246.8" fill="#707070"/><polygon points="1138.0,250.0 1139.2,250.2 1139.7,248.1 1138.6,247.8" fill="#8e8e8e"/>
<polygon points="440.6,490.4 440.6,471.4 429.5,471.4 429.4,490.4" fill="#8a8a8a"/><polygon points="438.1,490.4 438.1,471.4 430.8,471.4 430.7,490.4" fill="#c4c4c4"/><polygon points="435.4,490.4 435.4,471.4 432.3,471.4 432.2,490.4" fill="#e6e6e6"/>
<polygon points="440.5,562.2 440.5,552.7 429.3,552.7 429.3,562.2" fill="#585858"/><polygon points="438.0,562.2 438.0,552.7 430.6,552.7 430.6,562.2" fill="#7c7c7c"/><polygon points="435.3,562.2 435.3,552.7 432.2,552.7 432.1,562.2" fill="#989898"/>
<polygon points="1136.8,272.3 1136.8,258.1 1126.0,258.1 1126.1,272.4" fill="#707070"/><polygon points="1134.4,272.4 1134.4,258.1 1127.3,258.1 1127.3,272.4" fill="#a8a8a8"/><polygon points="1131.8,272.4 1131.8,258.1 1128.7,258.1 1128.8,272.4" fill="#d0d0d0"/>
<polygon points="1137.5,556.1 1136.7,270.2 1126.2,270.3 1126.9,556.1" fill="#828282"/><polygon points="1135.1,556.1 1134.4,270.2 1127.4,270.3 1128.1,556.1" fill="#c6c6c6"/><polygon points="1132.5,556.1 1131.8,270.2 1128.8,270.3 1129.6,556.1" fill="#ececec"/>
<polygon points="1137.6,490.4 1137.6,471.3 1126.4,471.3 1126.4,490.4" fill="#8a8a8a"/><polygon points="1135.1,490.4 1135.1,471.3 1127.7,471.3 1127.7,490.4" fill="#c4c4c4"/><polygon points="1132.4,490.4 1132.3,471.3 1129.2,471.3 1129.2,490.4" fill="#e6e6e6"/>
<polygon points="1137.8,562.5 1137.8,552.9 1126.6,553.0 1126.6,562.5" fill="#585858"/><polygon points="1135.3,562.5 1135.3,552.9 1127.9,553.0 1127.9,562.5" fill="#7c7c7c"/><polygon points="1132.6,562.5 1132.6,552.9 1129.4,552.9 1129.4,562.5" fill="#989898"/>
<polygon points="446.2,246.4 725.1,124.6 721.2,115.5 442.4,237.7" fill="#5f5f5f"/><polygon points="445.4,244.5 724.2,122.5 721.6,116.6 442.8,238.7" fill="#8e8e8e"/><polygon points="444.4,242.3 723.3,120.3 722.2,117.8 443.4,239.9" fill="#b2b2b2"/>
<polygon points="445.9,246.7 457.3,241.7 453.4,232.7 441.9,237.7" fill="#4c4c4c"/><polygon points="445.0,244.7 456.5,239.7 453.8,233.7 442.4,238.7" fill="#707070"/><polygon points="444.1,242.5 455.5,237.5 454.4,235.0 442.9,240.0" fill="#8e8e8e"/>
<polygon points="562.1,196.0 621.7,169.9 617.7,160.7 558.1,186.8" fill="#4c4c4c"/><polygon points="561.2,193.9 620.8,167.9 618.1,161.7 558.5,187.9" fill="#707070"/><polygon points="560.2,191.7 619.8,165.6 618.7,163.0 559.1,189.1" fill="#8e8e8e"/>
<polygon points="697.8,136.7 725.6,124.6 721.5,115.2 693.7,127.3" fill="#4c4c4c"/><polygon points="696.9,134.6 724.7,122.5 722.0,116.3 694.2,128.4" fill="#707070"/><polygon points="695.9,132.3 723.7,120.2 722.5,117.5 694.7,129.7" fill="#8e8e8e"/>
<path d="M435.4,259.6 Q435.4,246.0 444.3,242.1" fill="none" stroke="#4c4c4c" stroke-width="9.8"/><path d="M435.4,259.6 Q435.4,246.0 444.3,242.1" fill="none" stroke="#707070" stroke-width="6.1"/><path d="M435.4,259.6 Q435.4,246.0 444.3,242.1" fill="none" stroke="#8e8e8e" stroke-width="2.6"/>
<circle cx="606.3" cy="175.1" r="4.0" fill="#5e5e5e"/><polygon points="599.4,177.8 605.5,179.0 607.1,171.1 601.0,169.9" fill="#5e5e5e"/><polygon points="599.8,176.0 605.8,177.3 606.9,172.1 600.8,170.8" fill="#909090"/><polygon points="600.2,174.1 606.2,175.3 606.7,173.1 600.6,171.9" fill="#b8b8b8"/>
<circle cx="746.7" cy="120.2" r="4.4" fill="#707070"/><polygon points="731.7,120.6 745.5,124.4 747.9,115.9 734.1,112.1" fill="#707070"/><polygon points="732.3,118.4 746.1,122.2 747.7,116.6 733.9,112.7" fill="#b8b8b8"/><polygon points="733.0,116.0 746.8,119.8 747.5,117.4 733.6,113.6" fill="#e2e2e2"/>
<polygon points="730.7,130.1 730.7,174.8 735.1,174.8 735.1,130.1" fill="#808080"/><polygon points="731.2,130.1 731.2,174.8 734.1,174.8 734.1,130.1" fill="#b4b4b4"/><polygon points="731.8,130.1 731.8,174.8 733.0,174.8 733.0,130.1" fill="#d8d8d8"/>
<polygon points="304.0,237.6 439.1,254.8 440.1,247.3 305.0,229.4" fill="#5e5e5e"/><polygon points="304.2,235.8 439.4,253.2 440.0,248.2 304.9,230.4" fill="#909090"/><polygon points="304.5,233.8 439.6,251.3 439.9,249.2 304.8,231.5" fill="#b8b8b8"/>
<polygon points="600.3,182.5 884.0,173.4 883.9,168.5 600.1,177.7" fill="#808080"/><polygon points="600.2,181.4 884.0,172.3 883.9,169.1 600.1,178.3" fill="#b4b4b4"/><polygon points="600.2,180.2 884.0,171.1 883.9,169.7 600.2,178.9" fill="#d8d8d8"/>
<polygon points="301.0,577.1 436.6,565.9 436.0,558.5 300.4,569.0" fill="#565656"/><polygon points="300.9,575.3 436.5,564.2 436.1,559.4 300.5,570.0" fill="#8a8a8a"/><polygon points="300.7,573.3 436.4,562.4 436.2,560.4 300.5,571.1" fill="#b4b4b4"/>
<polygon points="1050.1,218.1 744.2,114.4 741.0,123.8 1046.8,227.9" fill="#707070"/><polygon points="1049.8,218.9 744.0,115.2 741.9,121.4 1047.6,225.4" fill="#b8b8b8"/><polygon points="1049.5,219.9 743.6,116.1 742.8,118.7 1048.6,222.6" fill="#e2e2e2"/>
<circle cx="1065.0" cy="232.7" r="4.1" fill="#5e5e5e"/><polygon points="1058.2,235.3 1064.0,236.7 1066.0,228.7 1060.1,227.3" fill="#5e5e5e"/><polygon points="1058.6,233.5 1064.4,234.9 1065.7,229.7 1059.9,228.2" fill="#909090"/><polygon points="1059.1,231.5 1064.9,233.0 1065.5,230.7 1059.6,229.3" fill="#b8b8b8"/>
<circle cx="885.7" cy="167.4" r="4.0" fill="#5e5e5e"/><polygon points="879.7,169.9 884.7,171.3 886.7,163.5 881.8,162.1" fill="#5e5e5e"/><polygon points="880.1,168.2 885.1,169.5 886.5,164.4 881.5,163.0" fill="#909090"/><polygon points="880.6,166.3 885.6,167.6 886.2,165.4 881.2,164.1" fill="#b8b8b8"/>
<polygon points="1050.6,218.1 1026.8,210.0 1023.4,220.2 1047.2,228.3" fill="#5e5e5e"/><polygon points="1050.2,219.3 1026.4,211.2 1024.1,217.9 1047.9,226.0" fill="#8c8c8c"/><polygon points="1049.8,220.7 1025.9,212.6 1025.0,215.4 1048.8,223.5" fill="#b4b4b4"/>
<polygon points="893.8,164.9 840.4,146.8 837.0,156.7 890.4,174.9" fill="#5e5e5e"/><polygon points="893.4,166.1 840.0,148.0 837.8,154.5 891.2,172.7" fill="#8c8c8c"/><polygon points="892.9,167.4 839.6,149.3 838.6,152.1 892.0,170.2" fill="#b4b4b4"/>
<polygon points="765.8,121.5 743.9,114.1 740.6,123.8 762.5,131.3" fill="#5e5e5e"/><polygon points="765.4,122.7 743.5,115.2 741.3,121.7 763.2,129.1" fill="#8c8c8c"/><polygon points="764.9,124.0 743.0,116.6 742.1,119.3 764.0,126.7" fill="#b4b4b4"/>
<path d="M1059.2,241.7 Q1059.1,226.7 1048.4,223.0" fill="none" stroke="#707070" stroke-width="11.0"/><path d="M1059.2,241.7 Q1059.1,226.7 1048.4,223.0" fill="none" stroke="#a8a8a8" stroke-width="6.8"/><path d="M1059.2,241.7 Q1059.1,226.7 1048.4,223.0" fill="none" stroke="#d0d0d0" stroke-width="2.9"/>
<path d="M723.1,120.1 Q732.9,115.8 742.6,119.1" fill="none" stroke="#4c4c4c" stroke-width="10.3"/><path d="M723.1,120.1 Q732.9,115.8 742.6,119.1" fill="none" stroke="#707070" stroke-width="6.4"/><path d="M723.1,120.1 Q732.9,115.8 742.6,119.1" fill="none" stroke="#8e8e8e" stroke-width="2.7"/>
<polygon points="475.6,152.9 599.4,177.8 601.0,169.9 477.4,144.2" fill="#5e5e5e"/><polygon points="476.0,151.0 599.8,176.0 600.8,170.8 477.2,145.2" fill="#909090"/><polygon points="476.5,148.8 600.2,174.1 600.6,171.9 477.0,146.4" fill="#b8b8b8"/>
<polygon points="305.7,257.8 305.8,242.3 294.1,242.3 294.0,257.8" fill="#5e5e5e"/><polygon points="303.1,257.8 303.2,242.3 295.4,242.3 295.4,257.8" fill="#8c8c8c"/><polygon points="300.3,257.8 300.3,242.3 297.0,242.3 297.0,257.8" fill="#b4b4b4"/>
<polygon points="305.0,566.1 305.6,255.5 294.2,255.5 293.4,566.1" fill="#828282"/><polygon points="302.4,566.1 303.1,255.5 295.5,255.5 294.8,566.1" fill="#c6c6c6"/><polygon points="299.6,566.1 300.3,255.5 297.0,255.5 296.3,566.1" fill="#ececec"/>
<polygon points="617.9,89.7 731.7,120.6 734.1,112.1 620.5,80.3" fill="#707070"/><polygon points="618.6,87.3 732.3,118.4 733.9,112.7 620.3,81.1" fill="#b8b8b8"/><polygon points="619.3,84.6 733.0,116.0 733.6,113.6 620.1,82.0" fill="#e2e2e2"/>
<circle cx="1068.5" cy="232.5" r="4.3" fill="#4c4c4c"/><circle cx="1067.1" cy="232.1" r="4.3" fill="#4c4c4c"/><polygon points="1066.1,236.3 1067.5,236.6 1069.5,228.3 1068.2,228.0" fill="#4c4c4c"/><polygon points="1066.6,234.4 1067.9,234.8 1069.3,229.3 1067.9,228.9" fill="#707070"/><polygon points="1067.1,232.4 1068.4,232.7 1069.0,230.4 1067.6,230.1" fill="#8e8e8e"/>
<polygon points="305.5,494.7 305.5,474.0 293.3,474.0 293.3,494.7" fill="#8a8a8a"/><polygon points="302.7,494.7 302.8,474.0 294.7,474.0 294.7,494.7" fill="#c4c4c4"/><polygon points="299.8,494.7 299.8,474.0 296.4,474.0 296.3,494.7" fill="#e6e6e6"/>
<polygon points="305.3,573.1 305.3,562.7 293.1,562.7 293.1,573.0" fill="#585858"/><polygon points="302.6,573.0 302.6,562.7 294.5,562.7 294.5,573.0" fill="#7c7c7c"/><polygon points="299.6,573.0 299.6,562.7 296.2,562.7 296.2,573.0" fill="#989898"/>
<polygon points="1065.1,256.7 1065.1,241.1 1053.3,241.1 1053.3,256.7" fill="#707070"/><polygon points="1062.5,256.7 1062.4,241.1 1054.7,241.1 1054.7,256.7" fill="#a8a8a8"/><polygon points="1059.6,256.7 1059.6,241.1 1056.3,241.1 1056.3,256.7" fill="#d0d0d0"/>
<polygon points="1065.7,566.5 1065.0,254.4 1053.4,254.4 1054.1,566.5" fill="#828282"/><polygon points="1063.1,566.5 1062.4,254.4 1054.8,254.4 1055.4,566.5" fill="#c6c6c6"/><polygon points="1060.3,566.5 1059.6,254.4 1056.3,254.4 1057.0,566.5" fill="#ececec"/>
<polygon points="1065.9,494.7 1065.8,473.9 1053.6,473.9 1053.6,494.7" fill="#8a8a8a"/><polygon points="1063.1,494.7 1063.1,473.9 1055.0,473.9 1055.0,494.7" fill="#c4c4c4"/><polygon points="1060.1,494.7 1060.1,473.9 1056.6,473.9 1056.7,494.7" fill="#e6e6e6"/>
<polygon points="1066.0,573.4 1066.0,563.0 1053.8,563.0 1053.8,573.4" fill="#585858"/><polygon points="1063.3,573.4 1063.3,563.0 1055.2,563.0 1055.2,573.4" fill="#7c7c7c"/><polygon points="1060.3,573.4 1060.3,563.0 1056.8,563.0 1056.9,573.4" fill="#989898"/>
<polygon points="311.6,228.4 611.0,94.1 606.5,84.2 307.4,218.9" fill="#5f5f5f"/><polygon points="310.7,226.3 610.0,91.8 607.0,85.3 307.9,220.0" fill="#8e8e8e"/><polygon points="309.6,224.0 608.9,89.4 607.6,86.7 308.4,221.3" fill="#b2b2b2"/>
<polygon points="311.3,228.7 323.5,223.3 319.1,213.4 306.9,218.9" fill="#4c4c4c"/><polygon points="310.3,226.5 322.5,221.1 319.6,214.6 307.4,220.1" fill="#707070"/><polygon points="309.2,224.1 321.5,218.7 320.2,215.9 308.0,221.4" fill="#8e8e8e"/>
<polygon points="435.7,172.9 499.7,144.2 495.2,134.1 431.2,162.9" fill="#4c4c4c"/><polygon points="434.7,170.7 498.7,141.9 495.7,135.3 431.7,164.1" fill="#707070"/><polygon points="433.6,168.2 497.6,139.5 496.3,136.6 432.4,165.4" fill="#8e8e8e"/>
<polygon points="581.5,107.5 611.5,94.1 606.9,83.8 577.0,97.3" fill="#4c4c4c"/><polygon points="580.5,105.2 610.5,91.8 607.4,85.0 577.5,98.5" fill="#707070"/><polygon points="579.4,102.7 609.3,89.3 608.0,86.4 578.1,99.9" fill="#8e8e8e"/>
<path d="M299.9,242.9 Q300.0,227.9 309.5,223.7" fill="none" stroke="#4c4c4c" stroke-width="10.7"/><path d="M299.9,242.9 Q300.0,227.9 309.5,223.7" fill="none" stroke="#707070" stroke-width="6.7"/><path d="M299.9,242.9 Q300.0,227.9 309.5,223.7" fill="none" stroke="#8e8e8e" stroke-width="2.8"/>
<polygon points="971.2,214.3 1058.2,235.3 1060.1,227.3 973.4,205.4" fill="#5e5e5e"/><polygon points="971.7,212.3 1058.6,233.5 1059.9,228.2 973.2,206.5" fill="#909090"/><polygon points="972.3,210.2 1059.1,231.5 1059.6,229.3 972.9,207.7" fill="#b8b8b8"/>
<polygon points="777.7,143.1 879.7,169.9 881.8,162.1 780.0,134.5" fill="#5e5e5e"/><polygon points="778.2,141.2 880.1,168.2 881.5,163.0 779.7,135.5" fill="#909090"/><polygon points="778.7,139.1 880.6,166.3 881.2,164.1 779.4,136.7" fill="#b8b8b8"/>
<polygon points="616.8,100.1 616.8,149.0 621.6,149.0 621.6,100.1" fill="#808080"/><polygon points="617.4,100.1 617.4,149.0 620.5,149.0 620.6,100.1" fill="#b4b4b4"/><polygon points="618.0,100.1 618.0,149.0 619.4,149.0 619.4,100.1" fill="#d8d8d8"/>
<circle cx="142.2" cy="212.4" r="4.6" fill="#5e5e5e"/><polygon points="141.6,216.9 304.0,237.6 305.0,229.4 142.8,207.9" fill="#5e5e5e"/><polygon points="141.9,214.9 304.2,235.8 304.9,230.4 142.7,209.0" fill="#909090"/><polygon points="142.2,212.7 304.5,233.8 304.8,231.5 142.5,210.2" fill="#b8b8b8"/>
<polygon points="476.6,158.0 782.4,146.9 782.2,141.5 476.4,152.8" fill="#808080"/><polygon points="476.6,156.8 782.4,145.7 782.3,142.1 476.5,153.4" fill="#b4b4b4"/><polygon points="476.5,155.6 782.3,144.4 782.3,142.9 476.5,154.1" fill="#d8d8d8"/>
<polygon points="138.1,590.6 301.0,577.1 300.4,569.0 137.4,581.7" fill="#565656"/><polygon points="138.0,588.6 300.9,575.3 300.5,570.0 137.5,582.7" fill="#8a8a8a"/><polygon points="137.8,586.4 300.7,573.3 300.5,571.1 137.6,583.9" fill="#b4b4b4"/>
<polygon points="971.8,591.0 1058.8,577.4 1057.6,569.4 970.4,582.1" fill="#565656"/><polygon points="971.5,589.0 1058.5,575.6 1057.7,570.3 970.6,583.2" fill="#8a8a8a"/><polygon points="971.1,586.8 1058.2,573.7 1057.9,571.4 970.8,584.4" fill="#b4b4b4"/>
<polygon points="962.5,195.4 631.5,82.9 628.0,93.1 958.8,206.2" fill="#707070"/><polygon points="962.2,196.3 631.2,83.7 628.9,90.5 959.8,203.4" fill="#b8b8b8"/><polygon points="961.9,197.4 630.9,84.7 629.9,87.6 960.8,200.4" fill="#e2e2e2"/>
<polygon points="963.1,195.4 937.2,186.6 933.4,197.8 959.3,206.6" fill="#5e5e5e"/><polygon points="962.6,196.7 936.8,187.9 934.3,195.3 960.1,204.1" fill="#8c8c8c"/><polygon points="962.1,198.2 936.2,189.4 935.2,192.5 961.0,201.4" fill="#b4b4b4"/>
<polygon points="793.0,137.6 735.3,117.9 731.6,128.8 789.3,148.5" fill="#5e5e5e"/><polygon points="792.6,138.8 734.8,119.2 732.4,126.3 790.1,146.0" fill="#8c8c8c"/><polygon points="792.1,140.3 734.3,120.7 733.3,123.7 791.0,143.4" fill="#b4b4b4"/>
<polygon points="654.7,90.5 631.1,82.5 627.5,93.2 651.1,101.3" fill="#5e5e5e"/><polygon points="654.3,91.8 630.7,83.7 628.3,90.8 651.9,98.9" fill="#8c8c8c"/><polygon points="653.8,93.2 630.2,85.2 629.2,88.2 652.8,96.2" fill="#b4b4b4"/>
<path d="M972.3,221.3 Q972.3,204.8 960.7,200.8" fill="none" stroke="#707070" stroke-width="12.1"/><path d="M972.3,221.3 Q972.3,204.8 960.7,200.8" fill="none" stroke="#a8a8a8" stroke-width="7.5"/><path d="M972.3,221.3 Q972.3,204.8 960.7,200.8" fill="none" stroke="#d0d0d0" stroke-width="3.1"/>
<path d="M608.7,89.1 Q619.2,84.4 629.7,88.0" fill="none" stroke="#4c4c4c" stroke-width="11.3"/><path d="M608.7,89.1 Q619.2,84.4 629.7,88.0" fill="none" stroke="#707070" stroke-width="7.0"/><path d="M608.7,89.1 Q619.2,84.4 629.7,88.0" fill="none" stroke="#8e8e8e" stroke-width="2.9"/>
<circle cx="327.3" cy="118.1" r="4.9" fill="#5e5e5e"/><polygon points="326.3,122.8 475.6,152.9 477.4,144.2 328.2,113.3" fill="#5e5e5e"/><polygon points="326.7,120.7 476.0,151.0 477.2,145.2 328.0,114.4" fill="#909090"/><polygon points="327.2,118.4 476.5,148.8 477.0,146.4 327.7,115.7" fill="#b8b8b8"/>
<polygon points="495.9,56.5 617.9,89.7 620.5,80.3 498.7,46.3" fill="#707070"/><polygon points="496.6,53.9 618.6,87.3 620.3,81.1 498.5,47.1" fill="#b8b8b8"/><polygon points="497.4,51.0 619.3,84.6 620.1,82.0 498.2,48.1" fill="#e2e2e2"/>
<polygon points="143.7,239.2 143.7,222.1 130.8,222.1 130.8,239.1" fill="#5e5e5e"/><polygon points="140.8,239.2 140.8,222.1 132.3,222.1 132.3,239.1" fill="#8c8c8c"/><polygon points="137.6,239.2 137.7,222.1 134.1,222.1 134.0,239.1" fill="#b4b4b4"/>
<polygon points="142.5,583.6 143.6,236.6 130.9,236.6 129.8,583.5" fill="#828282"/><polygon points="139.6,583.6 140.7,236.6 132.4,236.6 131.3,583.5" fill="#c6c6c6"/><polygon points="136.5,583.6 137.6,236.6 134.1,236.6 133.0,583.5" fill="#ececec"/>
<circle cx="983.7" cy="211.4" r="4.7" fill="#4c4c4c"/><circle cx="982.0" cy="211.0" r="4.7" fill="#4c4c4c"/><polygon points="980.8,215.6 982.5,216.0 984.8,206.9 983.1,206.4" fill="#4c4c4c"/><polygon points="981.3,213.5 983.0,213.9 984.5,207.9 982.8,207.5" fill="#707070"/><polygon points="981.9,211.3 983.6,211.7 984.2,209.2 982.5,208.7" fill="#8e8e8e"/>
<polygon points="143.1,499.9 143.2,477.1 129.8,477.0 129.7,499.8" fill="#8a8a8a"/><polygon points="140.1,499.9 140.2,477.1 131.3,477.0 131.2,499.8" fill="#c4c4c4"/><polygon points="136.8,499.9 136.9,477.0 133.1,477.0 133.1,499.8" fill="#e6e6e6"/>
<polygon points="142.8,591.2 142.9,579.8 129.4,579.7 129.4,591.1" fill="#585858"/><polygon points="139.8,591.2 139.9,579.8 131.0,579.7 130.9,591.2" fill="#7c7c7c"/><polygon points="136.5,591.2 136.6,579.8 132.8,579.7 132.8,591.2" fill="#989898"/>
<polygon points="978.9,237.8 978.8,220.7 965.9,220.7 965.9,237.8" fill="#707070"/><polygon points="975.9,237.8 975.9,220.7 967.4,220.7 967.4,237.8" fill="#a8a8a8"/><polygon points="972.8,237.8 972.8,220.7 969.1,220.7 969.2,237.8" fill="#d0d0d0"/>
<polygon points="979.3,578.9 978.7,235.3 966.0,235.3 966.6,579.0" fill="#828282"/><polygon points="976.5,578.9 975.9,235.3 967.5,235.3 968.1,578.9" fill="#c6c6c6"/><polygon points="973.4,578.9 972.8,235.3 969.2,235.3 969.8,578.9" fill="#ececec"/>
<polygon points="979.6,499.9 979.5,477.0 966.0,477.0 966.1,499.9" fill="#8a8a8a"/><polygon points="976.5,499.9 976.5,477.0 967.6,477.0 967.6,499.9" fill="#c4c4c4"/><polygon points="973.3,499.9 973.2,477.0 969.4,477.0 969.5,499.9" fill="#e6e6e6"/>
<polygon points="979.7,586.6 979.7,575.1 966.2,575.1 966.2,586.6" fill="#585858"/><polygon points="976.7,586.6 976.7,575.1 967.8,575.1 967.8,586.6" fill="#7c7c7c"/><polygon points="973.4,586.6 973.4,575.1 969.6,575.1 969.6,586.6" fill="#989898"/>
<polygon points="140.1,592.3 160.6,592.8 160.8,583.0 140.3,582.6" fill="#585858"/><polygon points="140.1,590.2 160.6,590.6 160.8,584.2 140.3,583.7" fill="#7c7c7c"/><polygon points="140.2,587.8 160.7,588.2 160.8,585.5 140.3,585.0" fill="#989898"/>
<polygon points="150.0,206.7 472.7,57.1 467.6,46.2 145.2,196.4" fill="#5f5f5f"/><polygon points="148.9,204.4 471.5,54.7 468.2,47.5 145.7,197.6" fill="#8e8e8e"/><polygon points="147.7,201.9 470.3,52.0 468.9,49.0 146.4,199.0" fill="#b2b2b2"/>
<polygon points="136.0,592.1 319.7,596.4 319.9,586.7 136.2,582.7" fill="#565656"/><polygon points="136.1,590.0 319.7,594.2 319.9,587.9 136.2,583.8" fill="#8a8a8a"/><polygon points="136.1,587.7 319.8,591.9 319.8,589.2 136.2,585.0" fill="#b4b4b4"/>
<polygon points="149.6,207.1 162.8,201.0 157.8,190.3 144.6,196.4" fill="#4c4c4c"/><polygon points="148.5,204.7 161.6,198.6 158.3,191.5 145.2,197.6" fill="#707070"/><polygon points="147.3,202.1 160.4,196.0 159.0,193.0 145.9,199.1" fill="#8e8e8e"/>
<polygon points="293.6,140.3 352.4,113.1 347.3,102.0 288.5,129.4" fill="#4c4c4c"/><polygon points="292.5,137.9 351.3,110.6 347.9,103.3 289.1,130.6" fill="#707070"/><polygon points="291.3,135.2 350.0,107.9 348.6,104.8 289.8,132.1" fill="#8e8e8e"/>
<polygon points="440.8,72.1 473.3,57.1 468.0,45.8 435.6,60.9" fill="#4c4c4c"/><polygon points="439.7,69.6 472.1,54.5 468.6,47.1 436.2,62.2" fill="#707070"/><polygon points="438.4,66.9 470.8,51.8 469.3,48.6 436.9,63.7" fill="#8e8e8e"/>
<path d="M137.3,222.7 Q137.3,206.3 147.6,201.5" fill="none" stroke="#4c4c4c" stroke-width="11.8"/><path d="M137.3,222.7 Q137.3,206.3 147.6,201.5" fill="none" stroke="#707070" stroke-width="7.3"/><path d="M137.3,222.7 Q137.3,206.3 147.6,201.5" fill="none" stroke="#8e8e8e" stroke-width="3.1"/>
<circle cx="866.0" cy="183.7" r="5.1" fill="#5e5e5e"/><polygon points="864.8,188.6 971.2,214.3 973.4,205.4 867.2,178.7" fill="#5e5e5e"/><polygon points="865.3,186.4 971.7,212.3 973.2,206.5 866.9,179.9" fill="#909090"/><polygon points="865.9,184.0 972.3,210.2 972.9,207.7 866.6,181.2" fill="#b8b8b8"/>
<circle cx="654.7" cy="105.7" r="4.9" fill="#5e5e5e"/><polygon points="653.5,110.4 777.7,143.1 780.0,134.5 656.0,100.9" fill="#5e5e5e"/><polygon points="654.0,108.3 778.2,141.2 779.7,135.5 655.7,102.0" fill="#909090"/><polygon points="654.6,106.0 778.7,139.1 779.4,136.7 655.4,103.3" fill="#b8b8b8"/>
<polygon points="293.8,596.0 315.3,596.5 315.6,586.5 294.0,586.0" fill="#585858"/><polygon points="293.9,593.8 315.4,594.3 315.5,587.6 294.0,587.1" fill="#7c7c7c"/><polygon points="293.9,591.3 315.4,591.8 315.5,589.0 294.0,588.5" fill="#989898"/>
<polygon points="478.8,63.7 478.8,117.8 484.1,117.8 484.1,63.7" fill="#808080"/><polygon points="479.4,63.7 479.4,117.8 482.9,117.8 483.0,63.7" fill="#b4b4b4"/><polygon points="480.2,63.7 480.1,117.8 481.6,117.8 481.7,63.7" fill="#d8d8d8"/>
<polygon points="458.1,67.7 505.3,64.9 505.0,59.7 457.8,62.4" fill="#808080"/><polygon points="458.1,66.5 505.2,63.8 505.0,60.3 457.9,63.1" fill="#b4b4b4"/><polygon points="458.0,65.2 505.2,62.5 505.1,61.0 457.9,63.8" fill="#d8d8d8"/>
<polygon points="327.4,128.5 658.7,114.7 658.4,108.6 327.1,122.7" fill="#808080"/><polygon points="327.3,127.2 658.6,113.3 658.5,109.3 327.1,123.4" fill="#b4b4b4"/><polygon points="327.2,125.8 658.6,111.8 658.5,110.2 327.2,124.2" fill="#d8d8d8"/>
<polygon points="865.1,607.6 971.8,591.0 970.4,582.1 863.7,597.8" fill="#565656"/><polygon points="864.8,605.4 971.5,589.0 970.6,583.2 863.8,598.9" fill="#8a8a8a"/><polygon points="864.5,603.0 971.1,586.8 970.8,584.4 864.0,600.2" fill="#b4b4b4"/>
<polygon points="855.3,167.6 494.8,44.6 490.9,56.0 851.2,179.6" fill="#707070"/><polygon points="855.0,168.6 494.5,45.5 492.0,53.0 852.3,176.5" fill="#b8b8b8"/><polygon points="854.6,169.8 494.1,46.6 493.0,49.8 853.4,173.2" fill="#e2e2e2"/>
<polygon points="318.2,588.2 321.3,126.4 308.3,126.3 305.1,588.1" fill="#828282"/><polygon points="315.2,588.2 318.4,126.4 309.8,126.4 306.6,588.1" fill="#c6c6c6"/><polygon points="312.0,588.2 315.2,126.4 311.6,126.4 308.4,588.1" fill="#ececec"/>
<polygon points="321.6,236.2 321.7,195.7 307.6,195.6 307.5,236.1" fill="#8a8a8a"/><polygon points="318.4,236.1 318.5,195.7 309.2,195.7 309.1,236.1" fill="#c4c4c4"/><polygon points="315.0,236.1 315.1,195.7 311.1,195.7 311.1,236.1" fill="#e6e6e6"/>
<polygon points="319.2,504.3 319.4,475.5 305.5,475.4 305.3,504.2" fill="#8a8a8a"/><polygon points="316.1,504.3 316.3,475.5 307.1,475.4 306.9,504.2" fill="#c4c4c4"/><polygon points="312.7,504.3 312.9,475.5 309.0,475.5 308.8,504.3" fill="#e6e6e6"/>
<polygon points="855.9,167.6 827.6,157.9 823.3,170.4 851.6,180.1" fill="#5e5e5e"/><polygon points="855.4,169.0 827.1,159.4 824.3,167.6 852.6,177.3" fill="#8c8c8c"/><polygon points="854.8,170.7 826.5,161.1 825.3,164.5 853.6,174.2" fill="#b4b4b4"/>
<polygon points="670.2,104.2 607.4,82.8 603.3,94.8 666.1,116.3" fill="#5e5e5e"/><polygon points="669.7,105.6 606.9,84.2 604.2,92.1 667.0,113.6" fill="#8c8c8c"/><polygon points="669.2,107.3 606.4,85.8 605.2,89.2 668.0,110.7" fill="#b4b4b4"/>
<polygon points="520.0,52.9 494.4,44.2 490.4,56.0 516.0,64.8" fill="#5e5e5e"/><polygon points="519.5,54.3 494.0,45.6 491.3,53.4 516.9,62.1" fill="#8c8c8c"/><polygon points="519.0,55.9 493.4,47.2 492.3,50.5 517.9,59.2" fill="#b4b4b4"/>
<polygon points="318.6,596.0 318.6,584.2 304.7,584.2 304.7,596.0" fill="#585858"/><polygon points="315.4,596.0 315.5,584.2 306.3,584.2 306.3,596.0" fill="#7c7c7c"/><polygon points="312.1,596.0 312.1,584.2 308.2,584.2 308.2,596.0" fill="#989898"/>
<path d="M866.0,196.4 Q866.0,178.0 853.2,173.6" fill="none" stroke="#707070" stroke-width="13.5"/><path d="M866.0,196.4 Q866.0,178.0 853.2,173.6" fill="none" stroke="#a8a8a8" stroke-width="8.4"/><path d="M866.0,196.4 Q866.0,178.0 853.2,173.6" fill="none" stroke="#d0d0d0" stroke-width="3.5"/>
<path d="M470.2,51.7 Q481.5,46.4 492.9,50.3" fill="none" stroke="#4c4c4c" stroke-width="12.5"/><path d="M470.2,51.7 Q481.5,46.4 492.9,50.3" fill="none" stroke="#707070" stroke-width="7.7"/><path d="M470.2,51.7 Q481.5,46.4 492.9,50.3" fill="none" stroke="#8e8e8e" stroke-width="3.2"/>
<polygon points="672.8,605.0 697.0,605.6 697.3,594.9 673.1,594.4" fill="#585858"/><polygon points="672.9,602.6 697.1,603.2 697.2,596.2 673.0,595.6" fill="#7c7c7c"/><polygon points="672.9,600.0 697.1,600.6 697.2,597.6 673.0,597.1" fill="#989898"/>
<circle cx="880.0" cy="185.7" r="5.2" fill="#4c4c4c"/><circle cx="877.9" cy="185.2" r="5.2" fill="#4c4c4c"/><polygon points="876.7,190.3 878.7,190.8 881.3,180.6 879.2,180.1" fill="#4c4c4c"/><polygon points="877.2,188.0 879.3,188.5 881.0,181.8 878.9,181.3" fill="#707070"/><polygon points="877.8,185.5 879.9,186.0 880.6,183.2 878.5,182.7" fill="#8e8e8e"/>
<polygon points="668.0,604.7 866.3,609.4 866.6,598.9 668.2,594.5" fill="#565656"/><polygon points="668.0,602.4 866.4,607.0 866.5,600.1 668.2,595.7" fill="#8a8a8a"/><polygon points="668.1,599.9 866.4,604.5 866.5,601.5 668.2,597.1" fill="#b4b4b4"/>
<polygon points="873.2,214.7 873.2,195.7 858.8,195.7 858.8,214.7" fill="#707070"/><polygon points="870.0,214.7 870.0,195.7 860.5,195.7 860.5,214.7" fill="#a8a8a8"/><polygon points="866.5,214.7 866.5,195.7 862.4,195.7 862.5,214.7" fill="#d0d0d0"/>
<polygon points="873.5,599.9 873.1,211.9 859.0,211.9 859.3,599.9" fill="#828282"/><polygon points="870.4,599.9 869.9,211.9 860.6,211.9 861.0,599.9" fill="#c6c6c6"/><polygon points="866.9,599.9 866.5,211.9 862.5,211.9 862.9,599.9" fill="#ececec"/>
<polygon points="873.9,506.3 873.8,480.7 858.8,480.8 858.8,506.3" fill="#8a8a8a"/><polygon points="870.5,506.3 870.5,480.7 860.5,480.8 860.6,506.3" fill="#c4c4c4"/><polygon points="866.8,506.3 866.8,480.8 862.6,480.8 862.6,506.3" fill="#e6e6e6"/>
<polygon points="874.0,608.4 874.0,595.6 858.9,595.6 858.9,608.4" fill="#585858"/><polygon points="870.6,608.4 870.6,595.6 860.7,595.6 860.7,608.4" fill="#7c7c7c"/><polygon points="866.9,608.4 866.9,595.6 862.7,595.6 862.7,608.4" fill="#989898"/>
<polygon points="835.8,608.9 861.2,609.5 861.5,598.6 836.1,598.0" fill="#585858"/><polygon points="835.9,606.4 861.3,607.0 861.4,599.8 836.0,599.3" fill="#7c7c7c"/><polygon points="835.9,603.8 861.3,604.4 861.4,601.3 836.0,600.7" fill="#989898"/>
<polygon points="667.7,596.0 670.1,115.9 656.3,115.8 653.8,596.0" fill="#828282"/><polygon points="664.6,596.0 667.0,115.9 657.9,115.8 655.4,596.0" fill="#c6c6c6"/><polygon points="661.2,596.0 663.7,115.8 659.8,115.8 657.3,596.0" fill="#ececec"/>
<polygon points="670.6,224.6 670.6,181.9 655.8,181.9 655.8,224.6" fill="#8a8a8a"/><polygon points="667.3,224.6 667.3,181.9 657.5,181.9 657.5,224.6" fill="#c4c4c4"/><polygon points="663.7,224.6 663.7,181.9 659.5,181.9 659.5,224.6" fill="#e6e6e6"/>
<polygon points="668.6,507.6 668.8,477.2 654.1,477.1 653.9,507.5" fill="#8a8a8a"/><polygon points="665.3,507.5 665.5,477.1 655.8,477.1 655.6,507.5" fill="#c4c4c4"/><polygon points="661.7,507.5 661.9,477.1 657.8,477.1 657.6,507.5" fill="#e6e6e6"/>
<polygon points="668.1,604.3 668.1,591.8 653.4,591.8 653.4,604.3" fill="#585858"/><polygon points="664.8,604.3 664.8,591.8 655.1,591.8 655.1,604.3" fill="#7c7c7c"/><polygon points="661.2,604.3 661.2,591.8 657.1,591.8 657.1,604.3" fill="#989898"/>
</g>
<g id="annotations" opacity="0.999">
<line x1="60.8" y1="54.0" x2="60.8" y2="299.5" stroke="#444444" stroke-width="5.0"/><line x1="60.8" y1="339.5" x2="60.8" y2="581.0" stroke="#444444" stroke-width="5.0"/><polygon points="60.8,40.0 53.2,55.0 68.2,55.0" fill="#444444"/><polygon points="60.8,595.0 68.2,580.0 53.2,580.0" fill="#444444"/>
<rect x="12.5" y="300.0" width="96.5" height="40.0" rx="18.0" fill="#fff"/>
<text x="60.8" y="327.8" font-size="23.6" fill="#333" text-anchor="middle">4,46 m</text>
<line x1="268.8" y1="169.0" x2="268.8" y2="355.0" stroke="#d40000" stroke-width="5.0"/><line x1="268.8" y1="395.0" x2="268.8" y2="578.0" stroke="#d40000" stroke-width="5.0"/><polygon points="268.8,155.0 261.2,170.0 276.2,170.0" fill="#d40000"/><polygon points="268.8,592.0 276.2,577.0 261.2,577.0" fill="#d40000"/>
<rect x="224.0" y="355.0" width="86.0" height="40.0" rx="18.0" fill="#fff"/>
<text x="269.2" y="382.5" font-size="20" fill="#d40000" text-anchor="middle">3,59 m</text>
<line x1="343.0" y1="576.4" x2="434.0" y2="578.8" stroke="#d40000" stroke-width="4.6"/><line x1="525.5" y1="581.2" x2="616.5" y2="583.6" stroke="#d40000" stroke-width="4.6"/><polygon points="329.0,576.0 343.8,583.6 344.2,569.2" fill="#d40000"/><polygon points="630.5,584.0 615.7,576.4 615.3,590.8" fill="#d40000"/>
<rect x="436.0" y="560.0" width="86.0" height="36.0" rx="18.0" fill="#fff"/>
<text x="479.2" y="585.2" font-size="20" fill="#d40000" text-anchor="middle">3,83 m</text>
<line x1="132.0" y1="636.4" x2="440.0" y2="645.4" stroke="#444444" stroke-width="4.6"/><line x1="532.5" y1="648.1" x2="840.0" y2="657.1" stroke="#444444" stroke-width="4.6"/><polygon points="117.0,636.0 132.8,643.7 133.2,629.2" fill="#444444"/><polygon points="855.0,657.5 839.2,649.8 838.8,664.3" fill="#444444"/>
<rect x="448.0" y="624.0" width="76.0" height="36.0" rx="18.0" fill="#fff"/>
<text x="485.8" y="652.0" font-size="23.6" fill="#333" text-anchor="middle">8 m</text>
<line x1="912.2" y1="653.0" x2="1058.0" y2="625.6" stroke="#444444" stroke-width="4.6"/><line x1="1147.0" y1="608.9" x2="1291.3" y2="581.8" stroke="#444444" stroke-width="4.6"/><polygon points="897.5,655.8 914.6,659.9 911.9,645.7" fill="#444444"/><polygon points="1306.0,579.0 1288.9,574.8 1291.6,589.1" fill="#444444"/>
<rect x="1061.0" y="594.0" width="80.0" height="38.5" rx="18.0" fill="#fff"/>
<text x="1100.6" y="622.0" font-size="23.6" fill="#333" text-anchor="middle">20 m</text>
<line x1="1347.5" y1="298.0" x2="1347.5" y2="387.5" stroke="#444444" stroke-width="5.0"/><line x1="1347.5" y1="435.0" x2="1347.5" y2="530.0" stroke="#444444" stroke-width="5.0"/><polygon points="1347.5,284.0 1340.0,299.0 1355.0,299.0" fill="#444444"/><polygon points="1347.5,544.0 1355.0,529.0 1340.0,529.0" fill="#444444"/>
<rect x="1314.0" y="392.0" width="70.0" height="38.0" rx="18.0" fill="#fff"/>
<text x="1347.7" y="420.5" font-size="23.6" fill="#333" text-anchor="middle">3 m</text>
<circle cx="232.0" cy="165.0" r="17" fill="#333"/><text x="232.0" y="171.4" font-size="18" fill="#fff" stroke="#fff" stroke-width="0.6" text-anchor="middle">1</text>
<circle cx="325.8" cy="123.0" r="17" fill="#333"/><text x="325.8" y="129.4" font-size="18" fill="#fff" stroke="#fff" stroke-width="0.6" text-anchor="middle">2</text>
<circle cx="483.8" cy="92.0" r="17" fill="#333"/><text x="483.8" y="98.5" font-size="18" fill="#fff" stroke="#fff" stroke-width="0.6" text-anchor="middle">3</text>
<circle cx="865.0" cy="476.0" r="17" fill="#333"/><text x="865.0" y="482.4" font-size="18" fill="#fff" stroke="#fff" stroke-width="0.6" text-anchor="middle">4</text>
<circle cx="662.5" cy="427.5" r="17" fill="#333"/><text x="662.5" y="433.9" font-size="18" fill="#fff" stroke="#fff" stroke-width="0.6" text-anchor="middle">5</text>
<circle cx="756.0" cy="601.0" r="17" fill="#333"/><text x="756.0" y="607.5" font-size="18" fill="#fff" stroke="#fff" stroke-width="0.6" text-anchor="middle">6</text>
<circle cx="864.0" cy="604.5" r="17" fill="#333"/><text x="864.0" y="611.0" font-size="18" fill="#fff" stroke="#fff" stroke-width="0.6" text-anchor="middle">7</text>
</g>
</svg>
</body></html>
